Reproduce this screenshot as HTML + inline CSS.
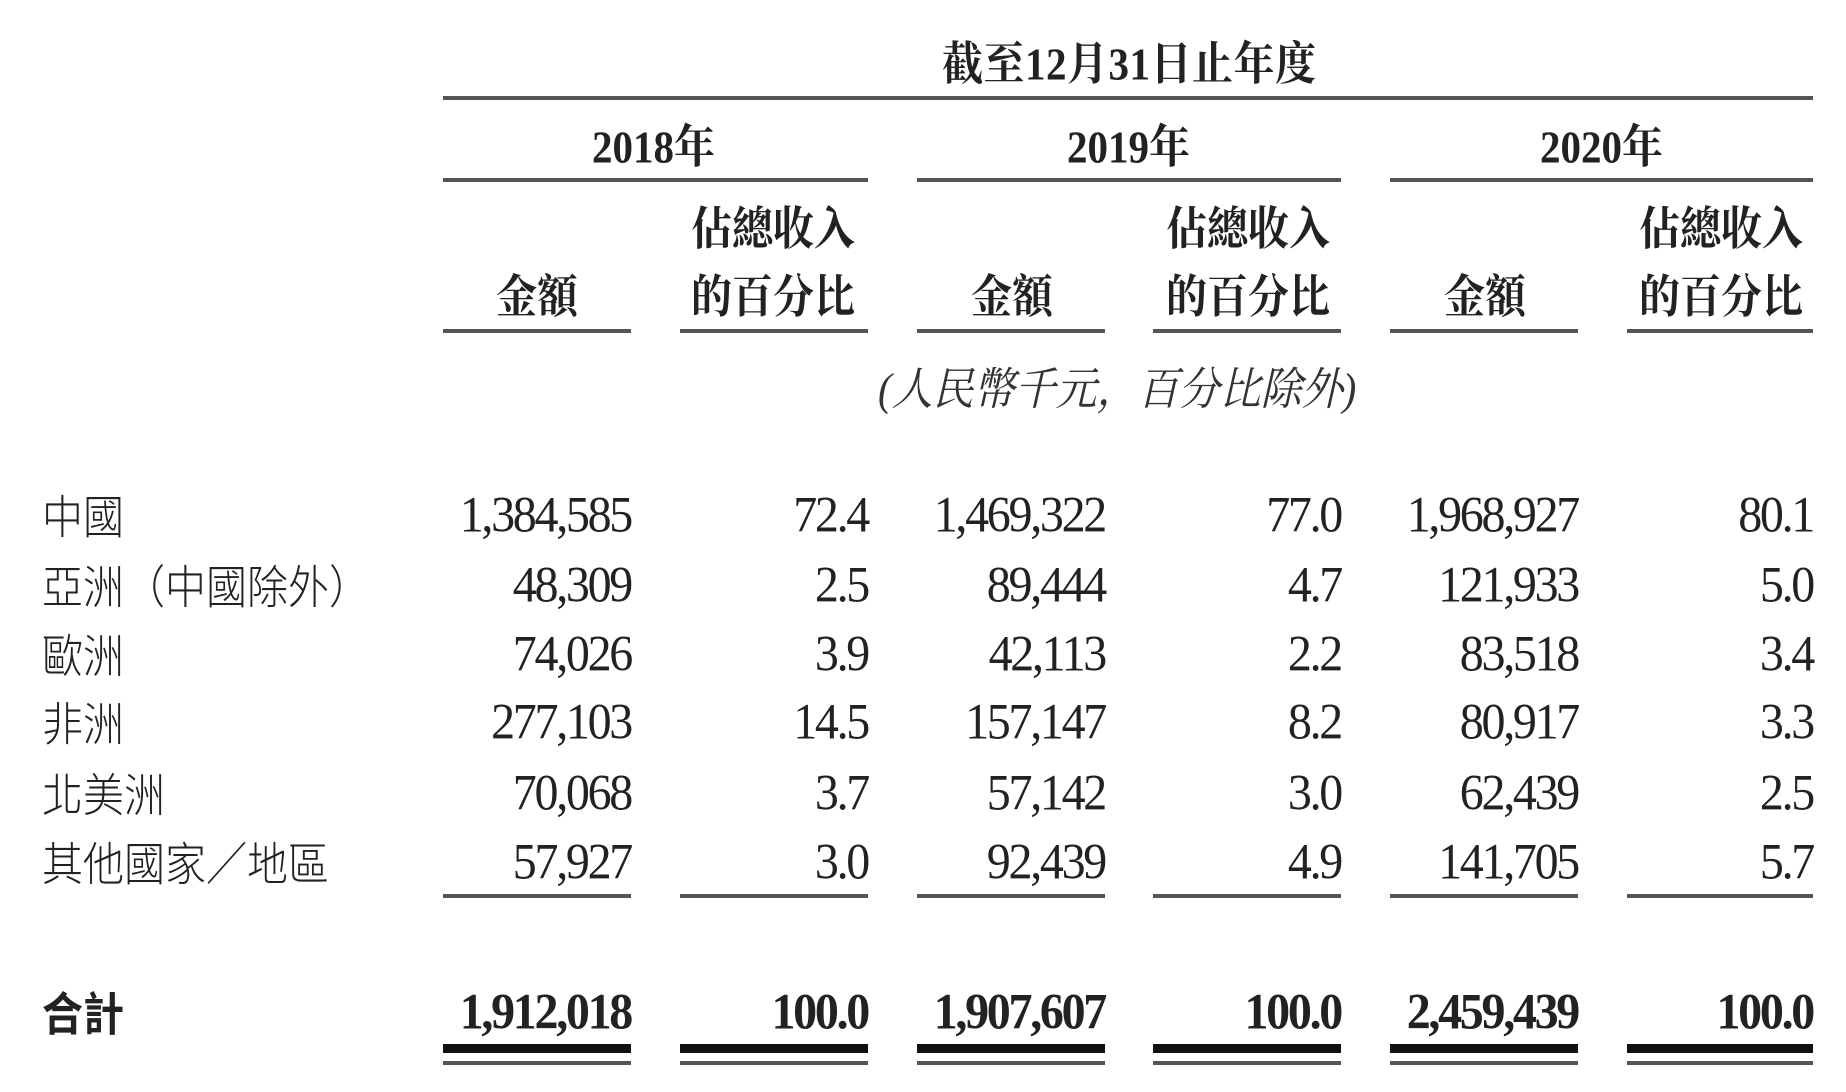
<!DOCTYPE html>
<html><head><meta charset="utf-8"><style>
body{margin:0;width:1846px;height:1092px;background:#fff;position:relative;overflow:hidden;color:#222;font-family:"Liberation Serif","Noto Serif CJK SC",serif}
.a{position:absolute;white-space:nowrap}
.ln{position:absolute;background:#555}
.h{font-weight:bold;font-size:41px;line-height:41px;transform:scaleY(1.12)}
.n{font-size:48px;letter-spacing:-2.3px;line-height:48px;text-align:right;transform:scaleY(1.05)}
.lb{font-family:"Liberation Sans","Noto Sans CJK TC",sans-serif;font-size:41px;line-height:41px;left:42px;transform:scaleY(1.12);transform-origin:left center;font-weight:300}
.b{font-weight:bold}
</style></head><body>
<div class="a h" style="left:942px;top:44px;letter-spacing:0.5px">截至12月31日止年度</div>
<div class="ln" style="left:443px;top:96px;width:1370px;height:4px"></div>

<div class="a h" style="left:592px;top:127px;">2018年</div>
<div class="a h" style="left:1067px;top:127px;">2019年</div>
<div class="a h" style="left:1540px;top:127px;">2020年</div>
<div class="ln" style="left:443px;top:178px;width:425px;height:4px"></div>
<div class="ln" style="left:917px;top:178px;width:424px;height:4px"></div>
<div class="ln" style="left:1390px;top:178px;width:423px;height:4px"></div>

<div class="a h" style="left:496px;top:277px;">金額</div>
<div class="a h" style="left:691px;top:209px;">佔總收入</div>
<div class="a h" style="left:691px;top:277px;">的百分比</div>
<div class="a h" style="left:971px;top:277px;">金額</div>
<div class="a h" style="left:1166px;top:209px;">佔總收入</div>
<div class="a h" style="left:1166px;top:277px;">的百分比</div>
<div class="a h" style="left:1444px;top:277px;">金額</div>
<div class="a h" style="left:1639px;top:209px;">佔總收入</div>
<div class="a h" style="left:1639px;top:277px;">的百分比</div>

<div class="a" style="left:878px;top:356px;font-size:41px;font-style:italic;color:#333;transform:scaleY(1.1)">(人民幣千元，百分比除外)</div>

<div class="a lb" style="top:498px">中國</div>
<div class="a lb" style="top:568px">亞洲（中國除外）</div>
<div class="a lb" style="top:637px">歐洲</div>
<div class="a lb" style="top:705px">非洲</div>
<div class="a lb" style="top:776px">北美洲</div>
<div class="a lb" style="top:845px">其他國家／地區</div>
<div class="a lb b" style="top:995px;font-weight:bold">合計</div>

<div id="rows"></div>
<script>
var data=[
[518,["1,384,585","72.4","1,469,322","77.0","1,968,927","80.1"]],
[588,["48,309","2.5","89,444","4.7","121,933","5.0"]],
[657,["74,026","3.9","42,113","2.2","83,518","3.4"]],
[725,["277,103","14.5","157,147","8.2","80,917","3.3"]],
[796,["70,068","3.7","57,142","3.0","62,439","2.5"]],
[865,["57,927","3.0","92,439","4.9","141,705","5.7"]],
[1015,["1,912,018","100.0","1,907,607","100.0","2,459,439","100.0"]]];
var L=[[443,631],[680,868],[917,1105],[1153,1341],[1390,1578],[1627,1813]];
var h='';
data.forEach(function(r,i){r[1].forEach(function(t,j){
h+='<div class="a n'+(i==6?' b':'')+'" style="left:'+(L[j][1]-300)+'px;width:300px;top:'+(r[0]-26)+'px">'+t+'</div>';});});
L.forEach(function(c){var w=c[1]-c[0];
h+='<div class="ln" style="left:'+c[0]+'px;top:329px;width:'+w+'px;height:4px"></div>';
h+='<div class="ln" style="left:'+c[0]+'px;top:894px;width:'+w+'px;height:4px"></div>';
h+='<div class="ln" style="background:#111;left:'+c[0]+'px;top:1044px;width:'+w+'px;height:9px"></div>';
h+='<div class="ln" style="left:'+c[0]+'px;top:1061px;width:'+w+'px;height:4px"></div>';});
document.getElementById('rows').innerHTML=h;
</script>
</body></html>
